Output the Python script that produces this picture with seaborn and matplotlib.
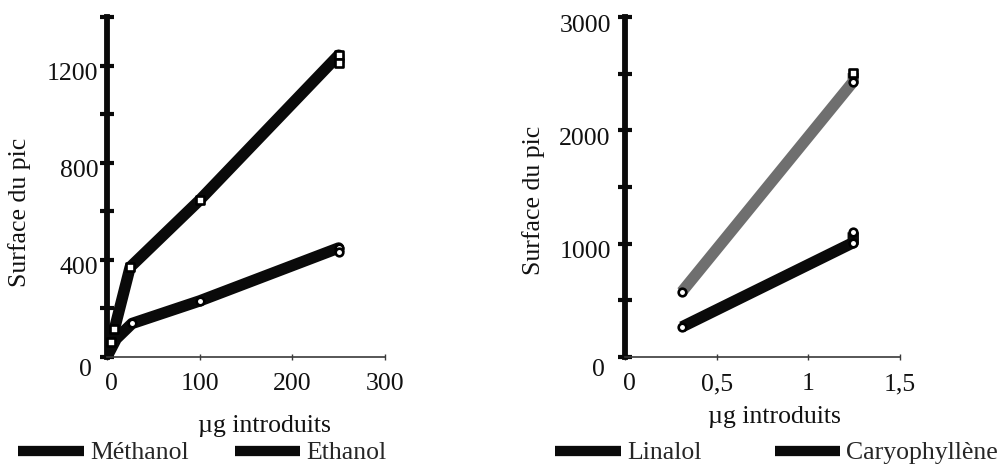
import numpy as np
import pandas as pd
import matplotlib
matplotlib.use("Agg")
import matplotlib.pyplot as plt
from matplotlib.lines import Line2D
from matplotlib.transforms import ScaledTranslation
import seaborn as sns

# ---------------- data ----------------
meth_x = [0.5, 4, 8, 25, 100, 250, 250]
meth_y = [5, 62, 115, 370, 646, 1243, 1210]
meth_mk = ["", "s", "s", "s", "s", "s", "s"]

eth_x = [0.5, 10, 27, 100, 250, 250]
eth_y = [5, 75, 138, 231, 449, 432]
eth_mk = ["", "", "o", "o", "o", "o"]

lin_x = [0.31, 1.245, 1.245]
lin_y = [575, 2430, 2505]
lin_mk = ["o", "o", "s"]

car_x = [0.31, 1.245, 1.245]
car_y = [265, 1010, 1100]
car_mk = ["o", "o", "o"]

left_names = ["Méthanol", "Ethanol"]
right_names = ["Linalol", "Caryophyllène"]

left_xticks = [0, 100, 200, 300]
left_xticklabels = ["0", "100", "200", "300"]
left_yticks = [0, 400, 800, 1200]
left_yticklabels = ["0", "400", "800", "1200"]
left_yminor = [200, 600, 1000, 1400]

right_xticks = [0, 0.5, 1, 1.5]
right_xticklabels = ["0", "0,5", "1", "1,5"]
right_yticks = [0, 1000, 2000, 3000]
right_yticklabels = ["0", "1000", "2000", "3000"]
right_yminor = [500, 1500, 2500]

xlabel = "µg introduits"
ylabel = "Surface du pic"

# ---------------- style ----------------
sns.set_style("white")
plt.rcParams["font.family"] = ["Liberation Serif", "DejaVu Serif"]
FS = 18.5

fig = plt.figure(figsize=(10.08, 4.67), dpi=100)
W, H = 1008, 467
ax1 = fig.add_axes([107 / W, 1 - 357 / H, 278 / W, 340 / H])
ax2 = fig.add_axes([625 / W, 1 - 357 / H, 275 / W, 340 / H])


def frame(name, xs, ys, mks):
    return pd.DataFrame({"x": xs, "y": ys, "mk": mks, "serie": name})


def draw(ax, df, color):
    sns.lineplot(data=df, x="x", y="y", ax=ax, estimator=None, sort=False,
                 color=color, linewidth=8.2, legend=False,
                 solid_joinstyle="round", solid_capstyle="butt")
    m = df[df["mk"] != ""]
    for mk, sub in m.groupby("mk"):
        sns.scatterplot(data=sub, x="x", y="y", ax=ax, marker=mk, s=30,
                        facecolor="white", edgecolor="black", linewidth=1.9,
                        legend=False, zorder=5, clip_on=False)


draw(ax1, frame(left_names[0], meth_x, meth_y, meth_mk), "#0a0a0a")
draw(ax1, frame(left_names[1], eth_x, eth_y, eth_mk), "#0a0a0a")
draw(ax2, frame(right_names[0], lin_x, lin_y, lin_mk), "#6f6f6f")
draw(ax2, frame(right_names[1], car_x, car_y, car_mk), "#0a0a0a")

ax1.set_xlim(0, 300)
ax1.set_ylim(0, 1400)
ax2.set_xlim(0, 1.5)
ax2.set_ylim(0, 3000)

ax1.set_xticks(left_xticks, left_xticklabels)
ax1.set_yticks(left_yticks, left_yticklabels)
ax1.set_yticks(left_yminor, minor=True)
ax2.set_xticks(right_xticks, right_xticklabels)
ax2.set_yticks(right_yticks, right_yticklabels)
ax2.set_yticks(right_yminor, minor=True)

for ax, ypad in ((ax1, 1.5), (ax2, 5.5)):
    sns.despine(ax=ax)
    ax.spines["left"].set_linewidth(4.2)
    ax.spines["left"].set_color("#0a0a0a")
    ax.spines["bottom"].set_linewidth(1.2)
    ax.spines["bottom"].set_color("#3a3a3a")
    ax.tick_params(axis="y", which="both", direction="inout", length=9.5,
                   width=3, color="#0a0a0a", left=True, pad=ypad,
                   labelsize=FS, labelcolor="#111111")
    ax.tick_params(axis="x", which="both", direction="inout", length=4,
                   width=1, color="#3a3a3a", bottom=True, pad=9.5,
                   labelsize=FS, labelcolor="#111111")
    ax.set_xlabel(xlabel, fontsize=FS, color="#111111")
    ax.set_ylabel(ylabel, fontsize=FS, color="#111111")

ax1.xaxis.set_label_coords(0.568, -0.17)
ax2.xaxis.set_label_coords(0.545, -0.145)
ax1.yaxis.set_label_coords(-0.273, 0.425)
ax2.yaxis.set_label_coords(-0.291, 0.46)

# legends
for names, x0, csp in ((left_names, 18, 1.8), (right_names, 555, 2.85)):
    handles = [Line2D([0], [0], color="#0a0a0a", linewidth=7.4,
                      solid_capstyle="butt") for _ in names]
    fig.legend(handles, names, loc="center left",
               bbox_to_anchor=(x0 / W, 14 / H), ncol=2, frameon=False,
               fontsize=FS, handlelength=2.55, handletextpad=0.25,
               columnspacing=csp, borderpad=0, borderaxespad=0)

# tick label offsets (labels sit a little below their ticks)
for ax in (ax1, ax2):
    ticks = ax.yaxis.get_major_ticks()
    for i, t in enumerate(ticks):
        dx, dy = (0, -6)
        if i == 0:
            dx, dy = (-6, -11)
        t.label1.set_transform(t.label1.get_transform() +
                               ScaledTranslation(dx / 100, dy / 100, fig.dpi_scale_trans))
    xt = ax.xaxis.get_major_ticks()
    xt[0].label1.set_transform(xt[0].label1.get_transform() +
                               ScaledTranslation(4 / 100, 0, fig.dpi_scale_trans))

fig.savefig("out.png", dpi=100)
